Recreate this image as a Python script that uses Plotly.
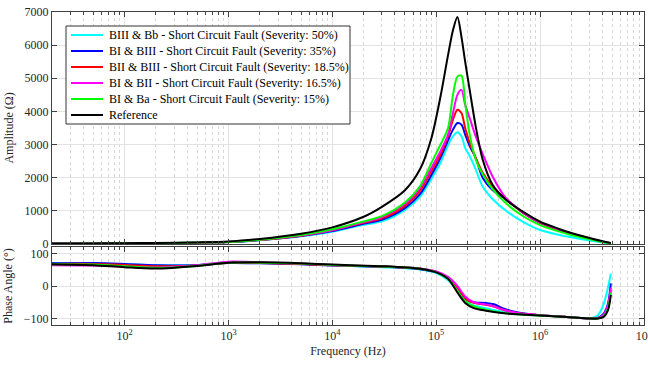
import plotly.graph_objects as go

# ---------------- data ----------------
freq_amp = [20, 50, 100, 200, 500, 1e3, 2e3, 5e3, 1e4, 2e4, 3e4, 5e4, 7e4, 9e4, 1.1e5, 1.3e5,
            1.45e5, 1.6e5, 1.75e5, 1.9e5, 2.1e5, 2.4e5, 2.8e5, 3.5e5, 4.7e5, 7e5, 1e6, 1.5e6,
            2e6, 3e6, 4e6, 4.8e6]

amp_cyan = [8, 11, 15, 22, 35, 55, 110, 230, 370, 580, 680, 1030, 1430, 1970, 2450, 2980,
            3250, 3370, 3250, 2900, 2650, 2250, 1730, 1350, 1000, 650, 420, 280,
            200, 100, 40, 10]
amp_blue = [8, 11, 15, 22, 36, 56, 115, 240, 390, 610, 730, 1080, 1510, 2080, 2600, 3130,
            3450, 3650, 3600, 3300, 2950, 2600, 2000, 1620, 1350, 920, 640, 430,
            310, 160, 70, 20]
amp_red = [8, 12, 16, 23, 37, 58, 120, 250, 410, 640, 770, 1150, 1610, 2200, 2700, 3250,
           3750, 4050, 3950, 3500, 3050, 2600, 2150, 1730, 1350, 920, 640, 430,
           310, 160, 70, 20]
amp_magenta = [8, 12, 17, 24, 38, 59, 125, 260, 420, 660, 810, 1210, 1700, 2300, 2800, 3300,
               3950, 4500, 4650, 4200, 3800, 3250, 2720, 2030, 1380, 930, 650, 440,
               315, 165, 70, 20]
amp_green = [8, 12, 18, 25, 40, 60, 130, 270, 440, 680, 840, 1250, 1750, 2450, 3000, 3500,
             4500, 5050, 5080, 4250, 3300, 2550, 2100, 1650, 1225, 820, 570, 380,
             270, 140, 60, 15]
amp_black = [10, 15, 20, 30, 45, 70, 150, 310, 500, 820, 1120, 1620, 2260, 3200, 4450, 5700,
             6450, 6850, 6250, 5500, 4650, 3550, 2550, 1780, 1330, 950, 670, 460,
             330, 180, 80, 30]

freq_ph = [20, 50, 100, 200, 500, 1e3, 2e3, 5e3, 1e4, 3e4, 7e4, 1e5, 1.3e5, 1.6e5, 1.9e5,
           2.3e5, 3e5, 3.6e5, 4.5e5, 6e5, 1e6, 1.8e6, 3e6, 3.6e6, 4.1e6, 4.5e6, 4.8e6]

ph_cyan = [70, 70, 67, 64, 65, 72, 71, 68, 64, 58, 51, 40, 18, -15, -45,
           -60, -68, -74, -80, -85, -91, -95, -99, -90, -55, -5, 38]
ph_blue = [70, 71, 68, 64, 64, 71, 70, 67, 63, 59, 52, 43, 25, -5, -38,
           -50, -52, -56, -70, -81, -90, -95, -100, -98, -85, -55, 8]
ph_red = [68, 68, 65, 61, 63, 72, 71, 68, 64, 60, 53, 44, 26, -5, -38,
          -52, -58, -63, -74, -83, -90, -95, -100, -99, -90, -65, -12]
ph_magenta = [64, 63, 60, 57, 64, 75, 73, 69, 65, 60, 54, 45, 28, 0, -32,
              -50, -57, -63, -74, -83, -90, -95, -100, -99, -88, -60, -5]
ph_green = [67, 66, 61, 56, 62, 72, 72, 69, 65, 60, 53, 42, 22, -15, -47,
            -63, -73, -78, -83, -87, -91, -95, -100, -100, -93, -70, -20]
ph_black = [67, 64, 58, 54, 62, 72, 73, 70, 66, 61, 53, 42, 22, -20, -52,
            -68, -76, -80, -84, -87, -91, -95, -100, -100, -95, -75, -27]

names = ["BIII & Bb - Short Circuit Fault (Severity: 50%)",
         "BI & BIII - Short Circuit Fault (Severity: 35%)",
         "BII & BIII - Short Circuit Fault (Severity: 18.5%)",
         "BI & BII - Short Circuit Fault (Severity: 16.5%)",
         "BI & Ba - Short Circuit Fault (Severity: 15%)",
         "Reference"]
colors = ["#00FFFF", "#0000FF", "#FF0000", "#FF00FF", "#00FF00", "#000000"]
amps = [amp_cyan, amp_blue, amp_red, amp_magenta, amp_green, amp_black]
phases = [ph_cyan, ph_blue, ph_red, ph_magenta, ph_green, ph_black]

major_x = [100, 1e3, 1e4, 1e5, 1e6, 1e7]
major_lbl = ["10<sup>2</sup>", "10<sup>3</sup>", "10<sup>4</sup>", "10<sup>5</sup>",
             "10<sup>6</sup>", "10<sup>7</sup>"]
minor_x = [m * 10 ** d for d in range(1, 7) for m in range(2, 10) if m * 10 ** d >= 20]

# ---------------- figure ----------------
fig = go.Figure()
for n, c, a, p in zip(names, colors, amps, phases):
    fig.add_trace(go.Scatter(x=freq_amp, y=a, name=n, mode="lines", showlegend=False,
                             line=dict(color=c, width=2, shape="spline", smoothing=0.8),
                             xaxis="x", yaxis="y"))
    fig.add_trace(go.Scatter(x=freq_ph, y=p, name=n, mode="lines", showlegend=False,
                             line=dict(color=c, width=2, shape="spline", smoothing=0.8),
                             xaxis="x2", yaxis="y2"))

# ---- legend box drawn in paper coordinates (compact MATLAB-style rows) ----
W, H = 648, 366
ML, MR, MT, MB = 52, 4, 12, 41
PW, PH = W - ML - MR, H - MT - MB


def px(xp):
    return (xp - ML) / PW


def py(yp):
    return (H - MB - yp) / PH


leg_left, leg_right, leg_top, leg_bot = 66, 350, 26, 124
row0, row_step = 35, 16
shapes = [dict(type="rect", xref="paper", yref="paper",
               x0=px(leg_left), x1=px(leg_right), y0=py(leg_bot), y1=py(leg_top),
               fillcolor="white", line=dict(color="#333333", width=1), layer="above")]
annotations = []
for i, (n, c) in enumerate(zip(names, colors)):
    yy = py(row0 + i * row_step)
    shapes.append(dict(type="line", xref="paper", yref="paper", x0=px(71), x1=px(103),
                       y0=yy, y1=yy, line=dict(color=c, width=2), layer="above"))
    annotations.append(dict(xref="paper", yref="paper", x=px(107), y=yy, text=n,
                            showarrow=False, xanchor="left", yanchor="middle",
                            font=dict(size=12, color="#000000")))

font_family = "Times New Roman, Liberation Serif, DejaVu Serif, serif"
axis_common = dict(showline=True, linecolor="#404040", linewidth=1, mirror="ticks",
                   ticks="inside", tickcolor="#404040", gridcolor="#E3E3E3", gridwidth=1,
                   zeroline=False, automargin=False)
xcommon = dict(type="log", range=[1.30103, 7.0005], tickvals=major_x, ticklen=5,
               ticklabeloverflow="allow",
               minor=dict(tickvals=minor_x, ticks="inside", ticklen=3, tickcolor="#404040",
                          showgrid=True, gridcolor="#D6D6D6", griddash="dot", gridwidth=1),
               **axis_common)

fig.update_layout(
    width=W, height=H,
    margin=dict(l=ML, r=MR, t=MT, b=MB, autoexpand=False),
    paper_bgcolor="white", plot_bgcolor="white",
    font=dict(family=font_family, size=12, color="#262626"),
    xaxis=dict(domain=[0, 1], anchor="y", showticklabels=False, **xcommon),
    yaxis=dict(domain=[0.259, 1], range=[0, 7000], tickvals=[0, 1000, 2000, 3000, 4000, 5000, 6000, 7000],
               ticklen=5, title=dict(text="Amplitude (Ω)", standoff=8, font=dict(size=12)),
               **axis_common),
    xaxis2=dict(domain=[0, 1], anchor="y2", ticktext=major_lbl,
                title=dict(text="Frequency (Hz)", standoff=4, font=dict(size=12)), **xcommon),
    yaxis2=dict(domain=[0, 0.249], range=[-120, 120], tickvals=[-100, 0, 100], ticklen=5,
                title=dict(text="Phase Angle (°)", standoff=8, font=dict(size=12)),
                **axis_common),
    shapes=shapes,
    annotations=annotations,
    showlegend=False,
)

fig.write_html("out.html")
